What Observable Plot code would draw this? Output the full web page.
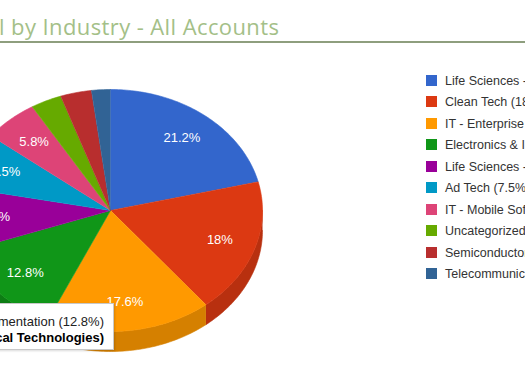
<!DOCTYPE html>
<html>
<head>
<meta charset="utf-8">
<script src="https://cdn.jsdelivr.net/npm/d3@7"></script>
<script src="https://cdn.jsdelivr.net/npm/@observablehq/plot@0.6"></script>
<style>
html, body { margin: 0; padding: 0; overflow: hidden; background: #fff; width: 525px; height: 375px; }
#wrap { position: relative; width: 525px; height: 375px; overflow: hidden; }
#wrap svg { position: absolute; left: 0; top: 0; }
#title { position: absolute; left: -1px; top: 12px; font: 400 22px/28px "Open Sans", sans-serif; letter-spacing: 0.4px; color: #a4bf88; white-space: nowrap; }
#rule { position: absolute; left: 0; top: 41px; width: 525px; height: 2px; background: #8e9e7e; }
.lg { position: absolute; left: 426px; height: 12px; white-space: nowrap; font: 12.5px/12px "Liberation Sans", Arial, sans-serif; color: #333; }
.lg i { position: absolute; left: 0; top: 0; width: 11px; height: 11px; }
.lg span { position: absolute; left: 19px; top: 0; }
#tip { position: absolute; left: -150px; top: 303px; width: 264px; height: 47px; box-sizing: border-box; background: #fff; border: 1px solid #c8c8c8; box-shadow: 1px 1px 2px rgba(0,0,0,0.15); font: 13px "Liberation Sans", Arial, sans-serif; white-space: nowrap; }
#tip div { position: absolute; right: 9px; }
</style>
</head>
<body>
<div id="wrap"></div>
<script>
const titleText = "l by Industry - All Accounts";
const categories = [
  "Life Sciences - Biotechnology",
  "Clean Tech",
  "IT - Enterprise Software",
  "Electronics & Instrumentation",
  "Life Sciences - Medical Devices",
  "Ad Tech",
  "IT - Mobile Software",
  "Uncategorized",
  "Semiconductors",
  "Telecommunications"
];
const values = [21.2, 18, 17.6, 12.8, 8.5, 7.5, 5.8, 3.3, 3.3, 2.0];
const colors = ["#3366cc", "#dc3912", "#ff9900", "#109618", "#990099", "#0099c6", "#dd4477", "#66aa00", "#b82e2e", "#316395"];
const tipLine1 = "Electronics & Instrumentation (12.8%)";
const tipLine2 = "(Physical Technologies)";

const depth = 20 / 121;   // wall height in radius units
const labelR = 0.76;

const arcs = d3.pie().sort(null).value(d => d)(values);

function arcPts(a0, a1) {
  const n = Math.max(2, Math.ceil((a1 - a0) / (Math.PI / 180)));
  const pts = [];
  for (let k = 0; k <= n; k++) {
    const a = a0 + (a1 - a0) * k / n;
    pts.push([Math.sin(a), -Math.cos(a)]);
  }
  return pts;
}

const facePts = [];
const wallPts = [];
const labelRows = [];
arcs.forEach((d, i) => {
  const c = colors[i];
  facePts.push({id: i, x: 0, y: 0, color: c});
  arcPts(d.startAngle, d.endAngle).forEach(([x, y]) => facePts.push({id: i, x, y, color: c}));
  const lo = Math.max(d.startAngle, Math.PI / 2), hi = Math.min(d.endAngle, 3 * Math.PI / 2);
  if (lo < hi) {
    const wc = d3.color(c).darker(0.5).formatHex();
    const top = arcPts(lo, hi);
    top.forEach(([x, y]) => wallPts.push({id: i, x, y, color: wc}));
    top.slice().reverse().forEach(([x, y]) => wallPts.push({id: i, x, y: y + depth, color: wc}));
  }
  if (values[i] >= 5) {
    const m = (d.startAngle + d.endAngle) / 2;
    labelRows.push({x: labelR * Math.sin(m), y: -labelR * Math.cos(m), text: `${values[i]}%`});
  }
});

const plot = Plot.plot({
  width: 525,
  height: 375,
  margin: 0,
  x: {domain: [-1, 1], range: [-42, 262], axis: null},
  y: {domain: [-1, 1], range: [89, 331], axis: null},
  style: {background: "transparent", fontFamily: "Liberation Sans, Arial, sans-serif", overflow: "visible"},
  marks: [
    Plot.line(wallPts, {x: "x", y: "y", z: "id", fill: "color", stroke: "color", strokeWidth: 0.6}),
    Plot.line(facePts, {x: "x", y: "y", z: "id", fill: "color", stroke: "color", strokeWidth: 0.6}),
    Plot.text(labelRows, {x: "x", y: "y", text: "text", fill: "white", fontSize: 13})
  ]
});

const wrap = d3.select("#wrap");
wrap.node().appendChild(plot);
wrap.append("div").attr("id", "title").text(titleText);
wrap.append("div").attr("id", "rule");

categories.forEach((cat, i) => {
  const row = wrap.append("div").attr("class", "lg").style("top", (74.5 + 21.5 * i) + "px");
  row.append("i").style("background", colors[i]);
  row.append("span").text(`${cat} (${values[i]}%)`);
});

const tip = wrap.append("div").attr("id", "tip");
tip.append("div").style("top", "10px").style("color", "#222").text(tipLine1);
tip.append("div").style("top", "26px").style("font-weight", "bold").style("color", "#000").text(tipLine2);
</script>
</body>
</html>
